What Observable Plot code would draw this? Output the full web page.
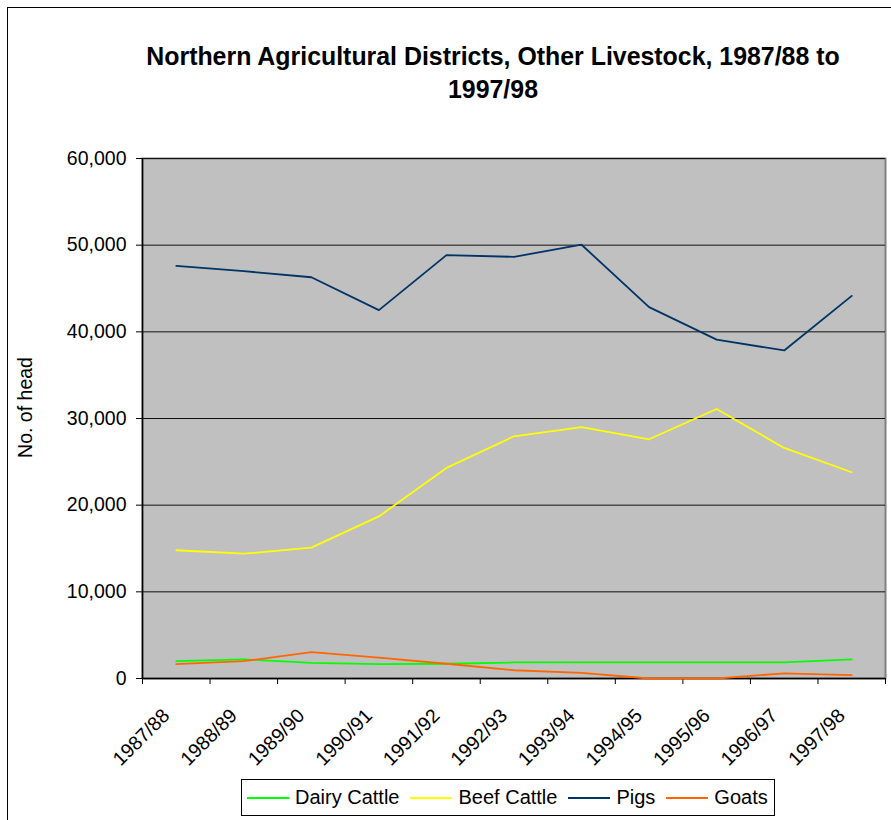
<!DOCTYPE html>
<html>
<head>
<meta charset="utf-8">
<script src="https://cdn.jsdelivr.net/npm/d3@7"></script>
<script src="https://cdn.jsdelivr.net/npm/@observablehq/plot@0.6"></script>
<style>
  html, body { margin: 0; padding: 0; background: #fff; }
  body { font-family: Arial, "Liberation Sans", sans-serif; }
  #wrap { position: relative; width: 891px; height: 820px; overflow: hidden; }
  #border { position: absolute; left: 7px; top: 7px; width: 1000px; height: 1000px; border: 1px solid #000; box-sizing: border-box; }
  #title { position: absolute; left: 0; top: 40px; width: 986px; text-align: center; font-weight: bold; font-size: 24.9px; line-height: 33px; color: #000; white-space: nowrap; }
  #chart { position: absolute; left: 0; top: 0; }
  #legend { position: absolute; left: 241px; top: 779px; width: 534px; height: 37px; border: 1px solid #000; box-sizing: border-box; background: #fff;
            display: flex; align-items: center; font-size: 20px; color: #000; white-space: nowrap; padding-left: 5px; }
  .item { display: flex; align-items: center; flex-shrink: 0; margin-right: 11px; }
  .sw { width: 42px; height: 0; border-top: 2px solid; margin-right: 6px; flex-shrink: 0; }
  .lab { flex-shrink: 0; }
</style>
</head>
<body>
<div id="wrap">
  <div id="border"></div>
  <div id="chart"></div>
  <div id="title">Northern Agricultural Districts, Other Livestock, 1987/88 to<br>1997/98</div>
  <div id="legend"></div>
</div>
<script>
const years = ["1987/88","1988/89","1989/90","1990/91","1991/92","1992/93","1993/94","1994/95","1995/96","1996/97","1997/98"];
const dairyCattle = [2000, 2200, 1800, 1650, 1700, 1850, 1850, 1850, 1850, 1850, 2200];
const beefCattle  = [14800, 14400, 15100, 18700, 24300, 27950, 29000, 27600, 31100, 26600, 23800];
const pigs        = [47600, 47000, 46300, 42500, 48850, 48650, 50050, 42850, 39100, 37850, 44150];
const goats       = [1650, 2000, 3050, 2400, 1700, 950, 650, 0, 0, 600, 400];
const seriesNames = ["Dairy Cattle", "Beef Cattle", "Pigs", "Goats"];
const seriesColors = ["#00ff00", "#ffff00", "#003366", "#ff6600"];
const yTicks = [0, 10000, 20000, 30000, 40000, 50000, 60000];
const yLabel = "No. of head";

const seriesValues = [dairyCattle, beefCattle, pigs, goats];
const rows = [];
seriesNames.forEach((name, s) => {
  seriesValues[s].forEach((v, i) => rows.push({series: name, i, value: v}));
});

const font = 'Arial, "Liberation Sans", sans-serif';
const chart = Plot.plot({
  width: 891,
  height: 780,
  marginTop: 158,
  marginLeft: 142,
  marginRight: 6,
  marginBottom: 102,
  style: {fontFamily: font, fontSize: "19.5px", color: "#000", background: "transparent", overflow: "visible"},
  x: {type: "linear", domain: [-0.5, years.length - 0.5]},
  y: {domain: [0, 60000]},
  color: {domain: seriesNames, range: seriesColors},
  marks: [
    Plot.frame({fill: "#c0c0c0", stroke: "#808080", strokeWidth: 2}),
    Plot.gridY(yTicks, {stroke: "#111", strokeOpacity: 1, strokeWidth: 1}),
    Plot.ruleX([-0.5], {stroke: "#000", strokeWidth: 1.5}),
    Plot.ruleY([0], {stroke: "#000", strokeWidth: 1.5}),
    Plot.axisY({ticks: yTicks, tickFormat: d3.format(","), tickSize: 6, tickPadding: 10, label: null, stroke: "#000", fill: "#000"}),
    Plot.axisX({ticks: d3.range(-0.5, years.length, 1), tickFormat: () => "", tickSize: 6, label: null, stroke: "#000"}),
    Plot.axisX({ticks: d3.range(years.length), tickFormat: i => years[i], tickSize: 0, tickPadding: 18, tickRotate: -45, dx: -10, dy: 16, label: null, fill: "#000"}),
    Plot.text([yLabel], {text: d => d, frameAnchor: "left", textAnchor: "middle", dx: -117, dy: -11, rotate: -90, fill: "#000", fontSize: 19.5}),
    Plot.line(rows, {x: "i", y: "value", z: "series", stroke: "series", strokeWidth: 1.8, curve: "linear"})
  ]
});
document.getElementById("chart").appendChild(chart);

const legend = document.getElementById("legend");
seriesNames.forEach((name, s) => {
  const item = document.createElement("div");
  item.className = "item";
  const sw = document.createElement("div");
  sw.className = "sw";
  sw.style.borderTopColor = seriesColors[s];
  const lab = document.createElement("span");
  lab.className = "lab";
  lab.textContent = name;
  item.appendChild(sw);
  item.appendChild(lab);
  legend.appendChild(item);
});
</script>
</body>
</html>
